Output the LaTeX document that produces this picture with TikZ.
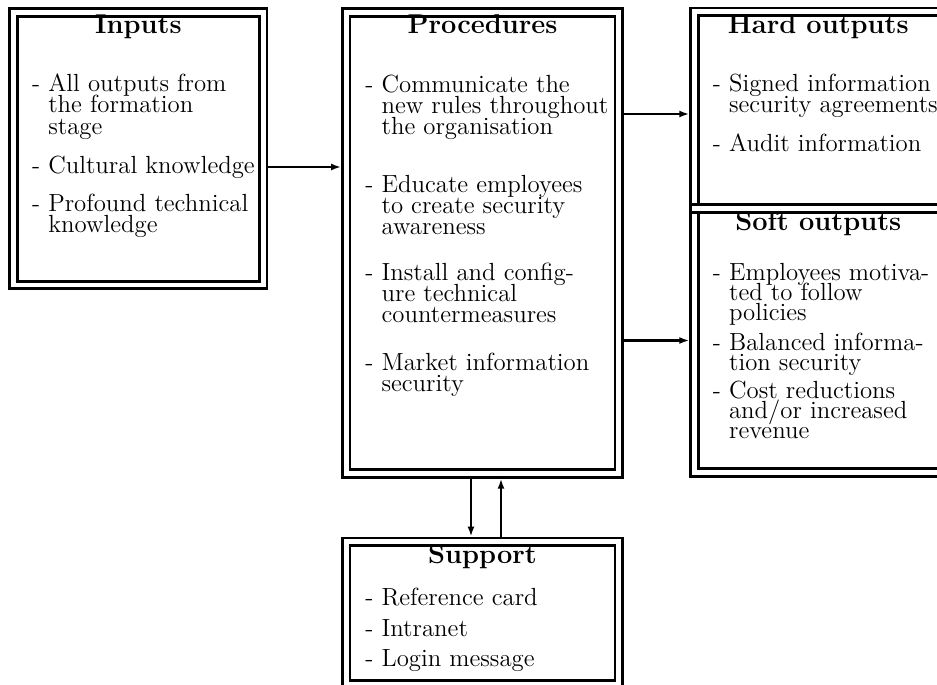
\documentclass[tikz,border=0pt]{standalone}
\usetikzlibrary{arrows.meta,fit}

% hanging indent for continuation lines of a list entry
\newcommand\ind{\hphantom{-\ }}
% lines of one list entry, stacked at a fixed baseline distance
\newcommand\lines[1]{\vtop{\lineskiplimit=-\maxdimen\lineskip=0pt #1}}

\begin{document}
\begin{tikzpicture}[x=0.5pt,y=-0.5pt,
  frame/.style={draw, line width=1.4pt, inner sep=0pt,
    path picture={\draw[line width=1.4pt]
      ([shift={(3.75pt,-3.75pt)}]path picture bounding box.north west) rectangle
      ([shift={(-3.75pt,3.75pt)}]path picture bounding box.south east);}},
  title/.style={anchor=base, inner sep=0pt, font=\fontsize{13.6}{14}\selectfont\bfseries},
  entry/.style={anchor=base west, inner sep=0pt, font=\fontsize{12.4}{#1}\selectfont},
  entry/.default=10.5,
  arr/.style={line width=1.1pt, -{Latex[length=5pt,width=3.5pt]}}]

\clip (0,0) rectangle (937,685);

% frames
\node[frame, fit={(9.7,8.7) (267,288.7)}] (inputs) {};
\node[frame, fit={(342.5,8.7) (622.5,477.3)}] (procedures) {};
\node[frame, fit={(690.7,8) (946,212.2)}] (hard) {};
\node[frame, fit={(690.7,204.7) (946,476.3)}] (soft) {};
\node[frame, fit={(342.5,538) (622.5,688)}] (support) {};

% titles
\node[title] (tin) at (138.4,33.3) {Inputs};
\node[title] (tpr) at (482.5,33.3) {Procedures};
\node[title] (tha) at (818.3,33.3) {Hard outputs};
\node[title] (tso) at (818.3,230) {Soft outputs};
\node[title] (tsu) at (482.5,563.3) {Support};

% inputs
\node[entry=10.6] (in1) at (31.7,91.7) {\lines{\hbox{-\ All outputs from}\hbox{\ind the formation}\hbox{\ind stage}}};
\node[entry=10.6] (in2) at (31.7,173) {\lines{\hbox{-\ Cultural knowledge}}};
\node[entry=10.6] (in3) at (31.7,211) {\lines{\hbox{-\ Profound technical}\hbox{\ind knowledge}}};

% procedures
\node[entry] (pr1) at (365,92) {\lines{\hbox{-\ Communicate the}\hbox{\ind new rules throughout}\hbox{\ind the organisation}}};
\node[entry] (pr2) at (365,192) {\lines{\hbox{-\ Educate employees}\hbox{\ind to create security}\hbox{\ind awareness}}};
\node[entry] (pr3) at (365,280.5) {\lines{\hbox{-\ Install and config-}\hbox{\ind ure technical}\hbox{\ind countermeasures}}};
\node[entry] (pr4) at (365,370) {\lines{\hbox{-\ Market information}\hbox{\ind security}}};

% hard outputs
\node[entry=10.6] (ha1) at (712.5,91.7) {\lines{\hbox{-\ Signed information}\hbox{\ind security agreements}}};
\node[entry] (ha2) at (712.5,151.7) {\lines{\hbox{-\ Audit information}}};

% soft outputs
\node[entry=10] (so1) at (712.5,280) {\lines{\hbox{-\ Employees motiva-}\hbox{\ind ted to follow}\hbox{\ind policies}}};
\node[entry=10] (so2) at (712.5,350) {\lines{\hbox{-\ Balanced informa-}\hbox{\ind tion security}}};
\node[entry=10] (so3) at (712.5,398.3) {\lines{\hbox{-\ Cost reductions}\hbox{\ind and/or increased}\hbox{\ind revenue}}};

% support
\node[entry] (su1) at (365,605.7) {\lines{\hbox{-\ Reference card}}};
\node[entry] (su2) at (365,636.7) {\lines{\hbox{-\ Intranet}}};
\node[entry] (su3) at (365,666.7) {\lines{\hbox{-\ Login message}}};

% connectors
\coordinate (yin) at (0,167);
\coordinate (yha) at (0,114);
\coordinate (xdn) at (471,0);
\coordinate (xup) at (501,0);
\draw[arr] (inputs.east |- yin) -- (procedures.west |- yin);
\draw[arr] (procedures.east |- yha) -- (hard.west |- yha);
\draw[arr] (procedures.east |- soft.west) -- (soft.west);
\draw[arr] (procedures.south -| xdn) -- (support.north -| xdn);
\draw[arr] (support.north -| xup) -- (procedures.south -| xup);
\end{tikzpicture}
\end{document}
